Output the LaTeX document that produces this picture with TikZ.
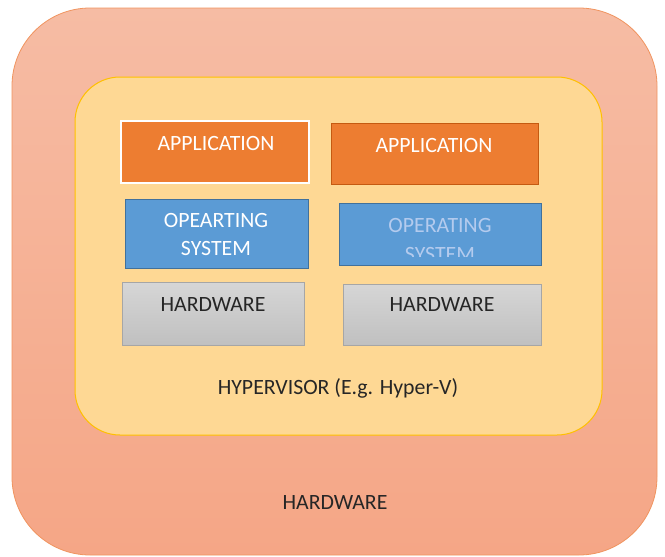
\documentclass[tikz,border=0pt]{standalone}
\usepackage{fontspec}
\setmainfont{Carlito}
\definecolor{outerTop}{HTML}{F6BCA4}
\definecolor{outerBot}{HTML}{F5A686}
\definecolor{outerLine}{HTML}{F0945F}
\definecolor{hypFill}{HTML}{FED894}
\definecolor{hypLine}{HTML}{FFC000}
\definecolor{appFill}{HTML}{ED7D31}
\definecolor{appLine}{HTML}{C55A11}
\definecolor{osFill}{HTML}{5B9BD5}
\definecolor{osLine}{HTML}{41719C}
\definecolor{hwTop}{HTML}{D6D6D6}
\definecolor{hwBot}{HTML}{C0C0C0}
\definecolor{hwLine}{HTML}{A6A6A6}
\definecolor{osText}{HTML}{B4CBEE}
\tikzset{
  x=1pt, y=-1pt,
  lbl/.style={font=\fontsize{21.8}{26}\selectfont, inner sep=0pt, align=center},
  appbox/.style={fill=appFill, draw=appLine, line width=1pt},
  osbox/.style={fill=osFill, draw=osLine, line width=1pt},
  hwbox/.style={top color=hwTop, bottom color=hwBot, draw=hwLine, line width=1pt},
}
\begin{document}
\begin{tikzpicture}
\useasboundingbox (0,0) rectangle (665,557);
% outer hardware
\path[rounded corners=78pt, top color=outerTop, bottom color=outerBot, draw=outerLine, line width=0.8pt]
  (12,8) rectangle (657,555);
% hypervisor
\path[rounded corners=45pt, fill=hypFill, draw=hypLine, line width=1pt]
  (75,77) rectangle (602,435);
% applications
\path[appbox, draw=white, line width=2pt] (121,121) rectangle (309,183);
\node[lbl, text=white] (appL) at (216,143) {APPLICATION};
\path[appbox] (331,123) rectangle (538,184);
\node[lbl, text=white] (appR) at (434,145) {APPLICATION};
% operating systems
\path[osbox] (125,199) rectangle (308,268);
\node[lbl, text=white] (osL1) at (216,220) {OPEARTING};
\node[lbl, text=white] (osL2) at (216,248) {SYSTEM};
\path[osbox] (339,203) rectangle (541,265);
\begin{scope}
\clip (339,203) rectangle (541,256);
\node[lbl, text=osText] (osR1) at (440,225) {OPERATING};
\node[lbl, text=osText] (osR2) at (440,254) {SYSTEM};
\end{scope}
% virtual hardware
\path[hwbox] (122,282) rectangle (304,345);
\node[lbl, text=black!85] (hwL) at (213,305) {HARDWARE};
\path[hwbox] (343,284) rectangle (541,345);
\node[lbl, text=black!85] (hwR) at (442,305) {HARDWARE};
% labels
\node[lbl, text=black!85] (hyp) at (338,388) {HYPERVISOR (E.g. Hyper-V)};
\node[lbl, text=black!85] (hw) at (335,503) {HARDWARE};
\end{tikzpicture}
\end{document}
